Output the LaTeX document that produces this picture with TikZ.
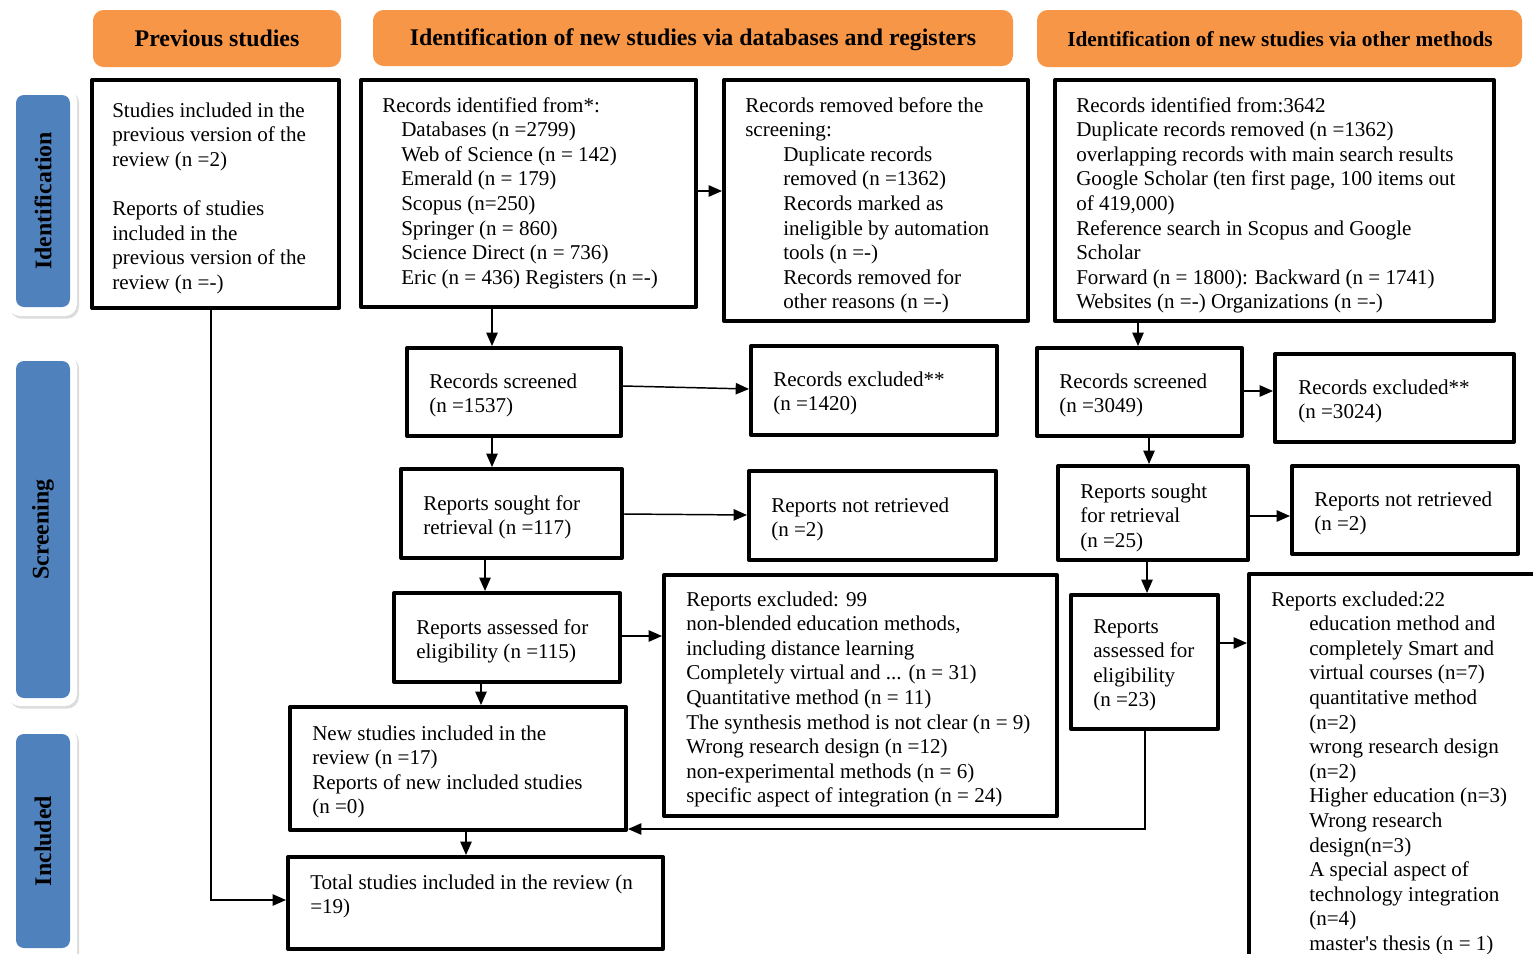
\documentclass[tikz,border=0pt]{standalone}
\usepackage{fontspec}
\setmainfont{Liberation Serif}
\usetikzlibrary{fit,arrows.meta,shadows}
\definecolor{hdrorange}{HTML}{F79646}
\definecolor{lblblue}{HTML}{4F81BD}
\newcommand\bodyfont{\fontsize{15.8pt}{18.45pt}\selectfont}
\newcommand\hdrfont{\bfseries\fontsize{17.9pt}{20pt}\selectfont}
\newcommand\pindA{\hspace*{14.25pt}}
\newcommand\pindB{\hspace*{28.5pt}}
\begin{document}
\begin{tikzpicture}[x=0.75pt,y=-0.75pt,
  box/.style={draw=black, line width=3pt, line join=round, inner sep=0pt},
  txt/.style={anchor=base west, inner sep=0pt, font=\bodyfont},
  hdr/.style={fill=hdrorange, rounded corners=8pt, inner sep=0pt},
  hdrtxt/.style={anchor=base, inner sep=0pt, font=\hdrfont},
  halo/.style={fill=white, rounded corners=9pt, inner sep=0pt,
    drop shadow={shadow xshift=1.5pt, shadow yshift=-2pt, opacity=0.3, fill=black!45}},
  lbl/.style={fill=lblblue, rounded corners=6pt, inner sep=0pt},
  lbltxt/.style={rotate=90, font=\hdrfont, inner sep=0pt},
  conn/.style={line width=1.1pt, -{Triangle[length=10pt,width=8.5pt]}}]
\clip (0,0) rectangle (1533,953);
\fill[white] (0,0) rectangle (1533,953);

% headers
\node[hdr, fit={(93,10) (341,67)}] (H1) {};
\node[hdrtxt] (H1t) at (217,46) {Previous studies};
\node[hdr, fit={(373,10) (1013,66)}] (H2) {};
\node[hdrtxt] (H2t) at (693,45) {Identification of new studies via databases and registers};
\node[hdr, fit={(1037,10) (1522,67)}] (H3) {};
\node[hdrtxt, font=\bfseries\fontsize{16pt}{18pt}\selectfont] (H3t) at (1280,46) {Identification of new studies via other methods};

% side labels
\node[halo, fit={(8,88) (77,316)}] (S1w) {};
\node[lbl, fit={(16,95) (70,307)}] (S1) {};
\node[lbltxt] (S1t) at (S1.center) {Identification};
\node[halo, fit={(8,354) (77,706)}] (S2w) {};
\node[lbl, fit={(16,361) (70,698)}] (S2) {};
\node[lbltxt] (S2t) at (S2.center) {Screening};
\node[halo, fit={(8,727) (77,970)}] (S3w) {};
\node[lbl, fit={(16,734) (70,948)}] (S3) {};
\node[lbltxt] (S3t) at (S3.center) {Included};

% boxes
\node[box, fit={(92,80) (339,308)}] (A) {};
\node[box, fit={(361,80) (696,307)}] (B) {};
\node[box, fit={(724,80) (1028,321)}] (C) {};
\node[box, fit={(1055,80) (1494,321)}] (D) {};
\node[box, fit={(407,348) (621,436)}] (E) {};
\node[box, fit={(751,346) (997,435)}] (F) {};
\node[box, fit={(1037,348) (1242,436)}] (G) {};
\node[box, fit={(1275,354) (1514,442)}] (H) {};
\node[box, fit={(401,469) (622,558)}] (I) {};
\node[box, fit={(749,471) (996,560)}] (J) {};
\node[box, fit={(1058,466) (1248,560)}] (K) {};
\node[box, fit={(1292,466) (1518,554)}] (L) {};
\node[box, fit={(394,593) (620,682)}] (M) {};
\node[box, fit={(664,575) (1057,816)}] (N) {};
\node[box, fit={(1071,595) (1218,729)}] (O) {};
\node[box, fit={(1249,574) (1545,990)}] (P) {};
\node[box, fit={(290,707) (626,830)}] (Q) {};
\node[box, fit={(288,857) (663,949)}] (R) {};

% texts
\node[txt] (At) at (112,117) {\parbox[t]{300pt}{Studies included in the\\
previous version of the\\
review (n =2)\\[18.45pt]
Reports of studies\\
included in the\\
previous version of the\\
review (n =-)}};
\node[txt] (Bt) at (382,112) {\parbox[t]{300pt}{Records identified from*:\\
\pindA Databases (n =2799)\\
\pindA Web of Science (n = 142)\\
\pindA Emerald (n = 179)\\
\pindA Scopus (n=250)\\
\pindA Springer (n = 860)\\
\pindA Science Direct (n = 736)\\
\pindA Eric (n = 436) Registers (n =-)}};
\node[txt] (Ct) at (745,112) {\parbox[t]{300pt}{Records removed before the\\
screening:\\
\pindB Duplicate records\\
\pindB removed (n =1362)\\
\pindB Records marked as\\
\pindB ineligible by automation\\
\pindB tools (n =-)\\
\pindB Records removed for\\
\pindB other reasons (n =-)}};
\node[txt] (Dt) at (1076,112) {\parbox[t]{400pt}{Records identified from:3642\\
Duplicate records removed (n =1362)\\
overlapping records with main search results\\
Google Scholar (ten first page, 100 items out\\
of 419,000)\\
Reference search in Scopus and Google\\
Scholar\\
Forward (n = 1800): Backward (n = 1741)\\
Websites (n =-) Organizations (n =-)}};
\node[txt] (Et) at (429,388) {\parbox[t]{200pt}{Records screened\\(n =1537)}};
\node[txt] (Ft) at (773,386) {\parbox[t]{200pt}{Records excluded**\\(n =1420)}};
\node[txt] (Gt) at (1059,388) {\parbox[t]{200pt}{Records screened\\(n =3049)}};
\node[txt] (Ht) at (1298,394) {\parbox[t]{200pt}{Records excluded**\\(n =3024)}};
\node[txt] (It) at (423,510) {\parbox[t]{200pt}{Reports sought for\\retrieval (n =117)}};
\node[txt] (Jt) at (771,512) {\parbox[t]{200pt}{Reports not retrieved\\(n =2)}};
\node[txt] (Kt) at (1080,498) {\parbox[t]{200pt}{Reports sought\\for retrieval\\(n =25)}};
\node[txt] (Lt) at (1314,506) {\parbox[t]{200pt}{Reports not retrieved\\(n =2)}};
\node[txt] (Mt) at (416,634) {\parbox[t]{200pt}{Reports assessed for\\eligibility (n =115)}};
\node[txt] (Nt) at (686,606) {\parbox[t]{350pt}{Reports excluded: 99\\
non-blended education methods,\\
including distance learning\\
Completely virtual and ... (n = 31)\\
Quantitative method (n = 11)\\
The synthesis method is not clear (n = 9)\\
Wrong research design (n =12)\\
non-experimental methods (n = 6)\\
specific aspect of integration (n = 24)}};
\node[txt] (Ot) at (1093,633) {\parbox[t]{200pt}{Reports\\assessed for\\eligibility\\(n =23)}};
\node[txt] (Pt) at (1271,606) {\parbox[t]{300pt}{Reports excluded:22\\
\pindB education method and\\
\pindB completely Smart and\\
\pindB virtual courses (n=7)\\
\pindB quantitative method\\
\pindB (n=2)\\
\pindB wrong research design\\
\pindB (n=2)\\
\pindB Higher education (n=3)\\
\pindB Wrong research\\
\pindB design(n=3)\\
\pindB A special aspect of\\
\pindB technology integration\\
\pindB (n=4)\\
\pindB master\textquotesingle s thesis (n = 1)}};
\node[txt] (Qt) at (312,740) {\parbox[t]{300pt}{New studies included in the\\
review (n =17)\\
Reports of new included studies\\
(n =0)}};
\node[txt] (Rt) at (310,889) {\parbox[t]{300pt}{Total studies included in the review (n\\
=19)}};

% helper coordinates
\foreach \v in {211,466,481,485,492,1138,1145,1147,1149} {\coordinate (x\v) at (\v,0);}
\foreach \v in {191,386,389,391,514,515,516,636,643,829,900} {\coordinate (y\v) at (0,\v);}

% connectors
\draw[conn] (A.south -| x211) |- (R.west |- y900);
\draw[conn] (B.south -| x492) -- (E.north -| x492);
\draw[conn] (B.east |- y191) -- (C.west |- y191);
\draw[conn] (E.east |- y386) -- (F.west |- y389);
\draw[conn] (E.south -| x492) -- (I.north -| x492);
\draw[conn] (I.east |- y514) -- (J.west |- y515);
\draw[conn] (I.south -| x485) -- (M.north -| x485);
\draw[conn] (M.east |- y636) -- (N.west |- y636);
\draw[conn] (M.south -| x481) -- (Q.north -| x481);
\draw[conn] (Q.south -| x466) -- (R.north -| x466);
\draw[conn] (D.south -| x1138) -- (G.north -| x1138);
\draw[conn] (G.east |- y391) -- (H.west |- y391);
\draw[conn] (G.south -| x1149) -- (K.north -| x1149);
\draw[conn] (K.east |- y516) -- (L.west |- y516);
\draw[conn] (K.south -| x1147) -- (O.north -| x1147);
\draw[conn] (O.east |- y643) -- (P.west |- y643);
\draw[conn] (O.south -| x1145) |- (Q.east |- y829);
\end{tikzpicture}
\end{document}
